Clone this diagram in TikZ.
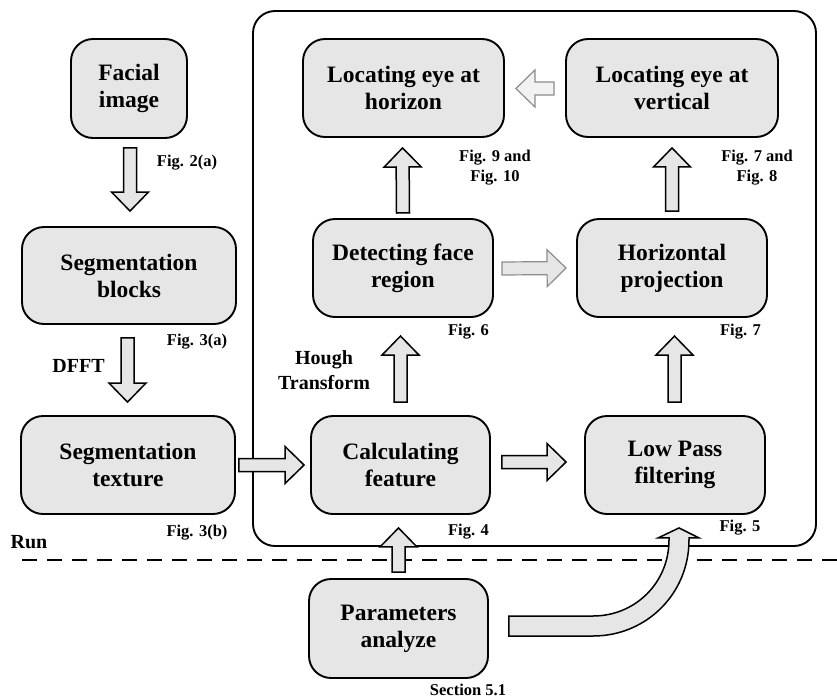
\documentclass[tikz,border=0pt]{standalone}
\usepackage{fontspec}
\setmainfont{Liberation Serif}
\usetikzlibrary{calc}
\definecolor{boxfill}{HTML}{E6E6E6}
\definecolor{lightfill}{HTML}{F2F2F2}
\definecolor{arrgray}{HTML}{8C8C8C}
\newcommand{\barrow}[3][]{%
  \coordinate (ba) at #2; \coordinate (bb) at #3;
  \coordinate (bh) at ($(bb)!19pt!(ba)$);
  \draw[blockarr,#1] ($(ba)!6.5pt!90:(bb)$) -- ($(bh)!6.5pt!90:(bb)$) -- ($(bh)!18.5pt!90:(bb)$) -- (bb)
     -- ($(bh)!18.5pt!-90:(bb)$) -- ($(bh)!6.5pt!-90:(bb)$) -- ($(ba)!6.5pt!-90:(bb)$) -- cycle;}
\begin{document}
\begin{tikzpicture}[x=1pt,y=-1pt,
  box/.style={draw, line width=1.9pt, fill=boxfill, rounded corners=22pt, inner sep=0pt, align=center,
    font=\fontsize{23.5}{27}\selectfont\bfseries},
  figlab/.style={inner sep=0pt, align=center, font=\fontsize{16.5}{20}\selectfont\bfseries},
  sidelab/.style={inner sep=0pt, align=center, font=\fontsize{20}{25}\selectfont\bfseries},
  blockarr/.style={draw=black, line width=1.5pt, fill=boxfill, line join=miter},
  lightarr/.style={draw=arrgray, line width=1.2pt, fill=boxfill},
  frame/.style={draw, line width=1.9pt, rounded corners=22pt},
  runline/.style={line width=2.5pt, dash pattern=on 15pt off 10pt}
]
\useasboundingbox (0,0) rectangle (837,699);

% frame and run line
\draw[frame] (253,11) rectangle (816,546);
\draw[runline] (22,560) -- (837,560);

% boxes
\node[box, minimum width=116pt, minimum height=99pt] (face) at (129,88.5) {Facial\\image};
\node[box, minimum width=214pt, minimum height=97pt] (segb) at (129,275.5) {Segmentation\\blocks};
\node[box, minimum width=214pt, minimum height=98pt] (segt) at (128,465) {Segmentation\\texture};
\node[box, minimum width=201pt, minimum height=98pt] (loch) at (403.5,88) {Locating eye at\\horizon};
\node[box, minimum width=212pt, minimum height=98pt] (locv) at (672,88) {Locating eye at\\vertical};
\node[box, minimum width=180pt, minimum height=98pt] (det) at (403,268) {Detecting face\\region};
\node[box, minimum width=190pt, minimum height=98pt] (hor) at (672,268) {Horizontal\\projection};
\node[box, minimum width=179pt, minimum height=98pt] (calc) at (400.5,465) {Calculating\\feature};
\node[box, minimum width=180pt, minimum height=98pt] (lowp) at (675,465) {Low Pass\\filtering};
\node[box, minimum width=179pt, minimum height=99pt] (par) at (398.5,628.5) {Parameters\\analyze};

% labels
\node[figlab] (l2a) at (187,163) {Fig. 2(a)};
\node[figlab] (l3a) at (197,342) {Fig. 3(a)};
\node[figlab] (l3b) at (197,533) {Fig. 3(b)};
\node[sidelab] (ldfft) at (78.5,366) {DFFT};
\node[sidelab] (lrun) at (29,542) {Run};
\node[figlab] (l910) at (495,168) {Fig. 9 and\\Fig. 10};
\node[figlab] (l78) at (757,168) {Fig. 7 and\\Fig. 8};
\node[figlab] (l6) at (468.5,332) {Fig. 6};
\node[figlab] (l7) at (740.5,332) {Fig. 7};
\node[sidelab] (lhough) at (324,370.5) {Hough\\Transform};
\node[figlab] (l4) at (468.5,532) {Fig. 4};
\node[figlab] (l5) at (740,528) {Fig. 5};
\node[figlab] (l51) at (468,689.5) {Section 5.1};

% block arrows
\barrow{($(face.south)+(1,9)$)}{($(segb.north)+(1,-15)$)}
\barrow{($(segb.south)+(-1.5,13)$)}{($(segt.north)+(-0.5,-13)$)}
\barrow{($(segt.east)+(3,0)$)}{($(calc.west)+(-6,0)$)}
\barrow{($(calc.east)+(11,-3)$)}{($(lowp.west)+(-18,-3)$)}
\barrow{($(calc.north)+(0,-13)$)}{($(calc.north)+(0,-79)$)}
\barrow{($(det.south)+(0,-105)$)}{($(loch.south)+(-1,10)$)}
\barrow{($(lowp.north)+(-0.5,-13)$)}{($(lowp.north)+(-0.5,-79)$)}
\barrow{($(hor.north)+(0,-7)$)}{($(locv.south)+(0,10)$)}
\barrow{($(par.north)+(0,-6)$)}{($(par.north |- calc.south)+(0,13)$)}
\barrow[lightarr]{($(det.east)+(8,0.5)$)}{($(hor.west)+(-10,0)$)}
\barrow[lightarr,fill=lightfill]{($(locv.west)+(-11,0.5)$)}{($(loch.east)+(11,0.5)$)}

% curved arrow from Parameters analyze to Low Pass filtering
\coordinate (cs) at ($(par.east)+(20,-2.5)$);
\coordinate (ce) at ($(lowp.south)+(4,13)$);
\draw[blockarr] ($(cs)+(0,-10)$) -- ($(cs)+(84,-10)$)
  .. controls ($(cs)+(126.5,-10)$) and ($(ce)+(-10,54.5)$) .. ($(ce)+(-10,12)$)
  -- ($(ce)+(-10,10)$) -- ($(ce)+(-21,10)$) -- (ce) -- ($(ce)+(20,10)$) -- ($(ce)+(10,10)$)
  -- ($(ce)+(10,12)$)
  .. controls ($(ce)+(10,65.6)$) and ($(cs)+(137.6,10)$) .. ($(cs)+(84,10)$)
  -- ($(cs)+(0,10)$) -- cycle;
\end{tikzpicture}
\end{document}
